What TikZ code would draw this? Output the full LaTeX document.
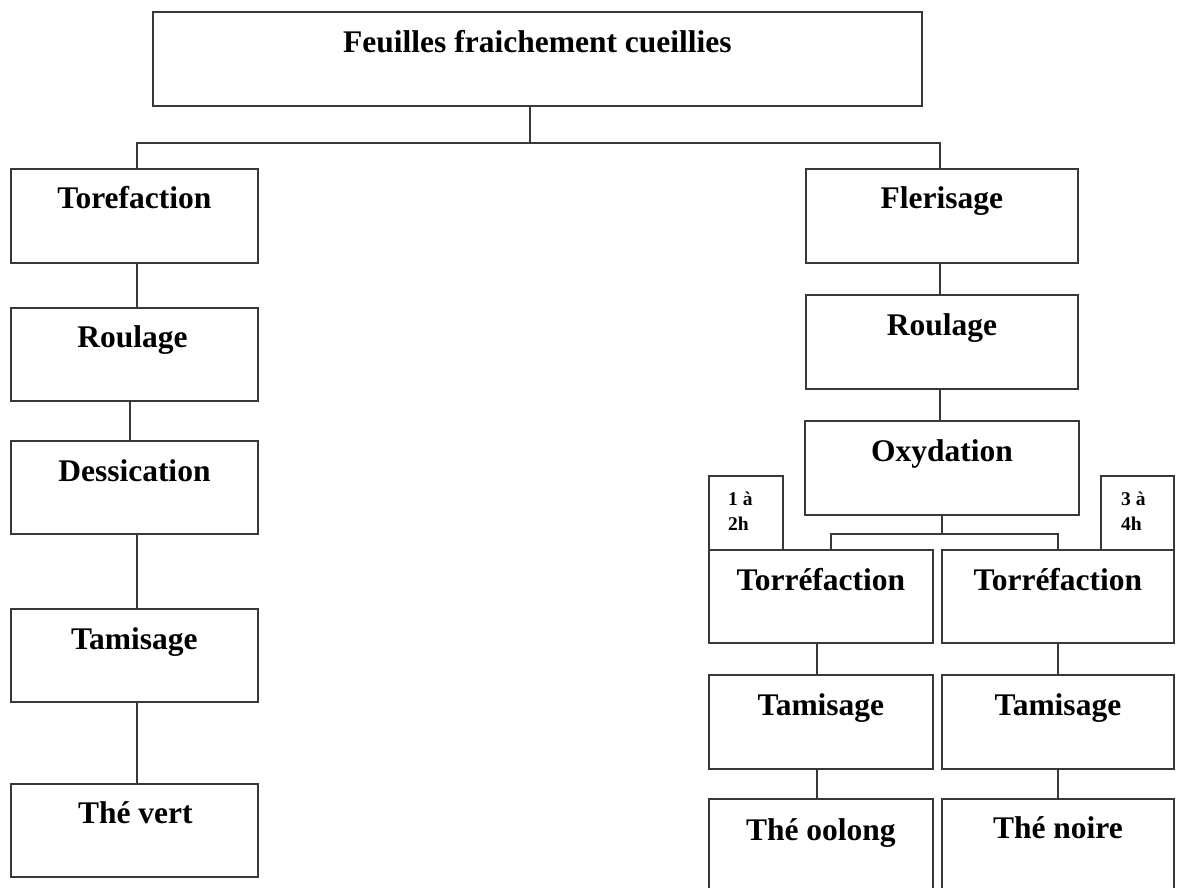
\documentclass[tikz,border=0pt]{standalone}
\usepackage{fontspec}
\setmainfont{Liberation Serif}
\usetikzlibrary{calc}
\tikzset{
  bx/.style={draw=black!78, line width=1.8pt, anchor=north west, inner sep=0pt},
  lbl/.style={anchor=base, inner sep=0pt, font=\bfseries\fontsize{31.5}{36}\selectfont, text=black},
  sml/.style={anchor=base west, inner sep=0pt, align=left, font=\bfseries\fontsize{19.5}{25}\selectfont, text=black},
  ln/.style={draw=black!78, line width=1.8pt}
}
\begin{document}
\begin{tikzpicture}[x=1pt,y=-1pt]
\clip (0,0) rectangle (1179,888);
\fill[white] (0,0) rectangle (1179,888);
% boxes
\node[bx, minimum width=769pt, minimum height=94pt] (top) at (152,11) {};
\node[bx, minimum width=247pt, minimum height=94pt] (tor) at (10,168) {};
\node[bx, minimum width=247pt, minimum height=93pt] (roulL) at (10,307) {};
\node[bx, minimum width=247pt, minimum height=93pt] (dess) at (10,440) {};
\node[bx, minimum width=247pt, minimum height=93pt] (tamL) at (10,608) {};
\node[bx, minimum width=247pt, minimum height=93pt] (vert) at (10,783) {};
\node[bx, minimum width=272pt, minimum height=94pt] (fler) at (805,168) {};
\node[bx, minimum width=272pt, minimum height=94pt] (roulR) at (805,294) {};
\node[bx, minimum width=274pt, minimum height=94pt] (oxy) at (804,420) {};
\node[bx, minimum width=74pt, minimum height=74pt] (sa) at (708,475) {};
\node[bx, minimum width=73pt, minimum height=74pt] (sb) at (1100,475) {};
\node[bx, minimum width=224pt, minimum height=93pt] (torA) at (708,549) {};
\node[bx, minimum width=232pt, minimum height=93pt] (torB) at (941,549) {};
\node[bx, minimum width=224pt, minimum height=94pt] (tamA) at (708,674) {};
\node[bx, minimum width=232pt, minimum height=94pt] (tamB) at (941,674) {};
\node[bx, minimum width=224pt, minimum height=130pt] (theA) at (708,798) {};
\node[bx, minimum width=232pt, minimum height=130pt] (theB) at (941,798) {};
% labels
\node[lbl] (tTop) at ($(top.north)+(0,42)$) {Feuilles fraichement cueillies};
\node[lbl] (tTor) at ($(tor.north)+(0,41)$) {Torefaction};
\node[lbl] (tRoulL) at ($(roulL.north)+(-2,40)$) {Roulage};
\node[lbl] (tDess) at ($(dess.north)+(0,41)$) {Dessication};
\node[lbl] (tTamL) at ($(tamL.north)+(0,41)$) {Tamisage};
\node[lbl] (tVert) at ($(vert.north)+(1,40)$) {Thé vert};
\node[lbl] (tFler) at ($(fler.north)+(0,41)$) {Flerisage};
\node[lbl] (tRoulR) at ($(roulR.north)+(0,41)$) {Roulage};
\node[lbl] (tOxy) at ($(oxy.north)+(0,41)$) {Oxydation};
\node[lbl] (tTorA) at ($(torA.north)+(0,41)$) {Torréfaction};
\node[lbl] (tTorB) at ($(torB.north)+(0,41)$) {Torréfaction};
\node[lbl] (tTamA) at ($(tamA.north)+(0,41)$) {Tamisage};
\node[lbl] (tTamB) at ($(tamB.north)+(0,41)$) {Tamisage};
\node[lbl] (tTheA) at ($(theA.north)+(0,42)$) {Thé oolong};
\node[lbl] (tTheB) at ($(theB.north)+(0,40)$) {Thé noire};
\node[sml] (tSa) at (728,530) {1 à\\2h};
\node[sml] (tSb) at (1121,530) {3 à\\4h};
% connectors
\coordinate (j0) at (530,143);
\coordinate (jl) at (137,143);
\coordinate (jr) at (940,143);
\draw[ln] (top.south -| j0) -- (j0);
\draw[ln] (jl |- tor.north) -- (jl) -- (jr) -- (jr |- fler.north);
\coordinate (c1) at (137,0);
\coordinate (c2) at (130,0);
\draw[ln] (tor.south -| c1) -- (roulL.north -| c1);
\draw[ln] (roulL.south -| c2) -- (dess.north -| c2);
\draw[ln] (dess.south -| c1) -- (tamL.north -| c1);
\draw[ln] (tamL.south -| c1) -- (vert.north -| c1);
\coordinate (c3) at (940,0);
\draw[ln] (fler.south -| c3) -- (roulR.north -| c3);
\draw[ln] (roulR.south -| c3) -- (oxy.north -| c3);
\coordinate (j2) at (942,534);
\coordinate (ja) at (831,534);
\coordinate (jb) at (1058,534);
\draw[ln] (oxy.south -| j2) -- (j2);
\draw[ln] (ja |- torA.north) -- (ja) -- (jb) -- (jb |- torB.north);
\coordinate (c4) at (817,0);
\coordinate (c5) at (1058,0);
\draw[ln] (torA.south -| c4) -- (tamA.north -| c4);
\draw[ln] (tamA.south -| c4) -- (theA.north -| c4);
\draw[ln] (torB.south -| c5) -- (tamB.north -| c5);
\draw[ln] (tamB.south -| c5) -- (theB.north -| c5);
\end{tikzpicture}
\end{document}
